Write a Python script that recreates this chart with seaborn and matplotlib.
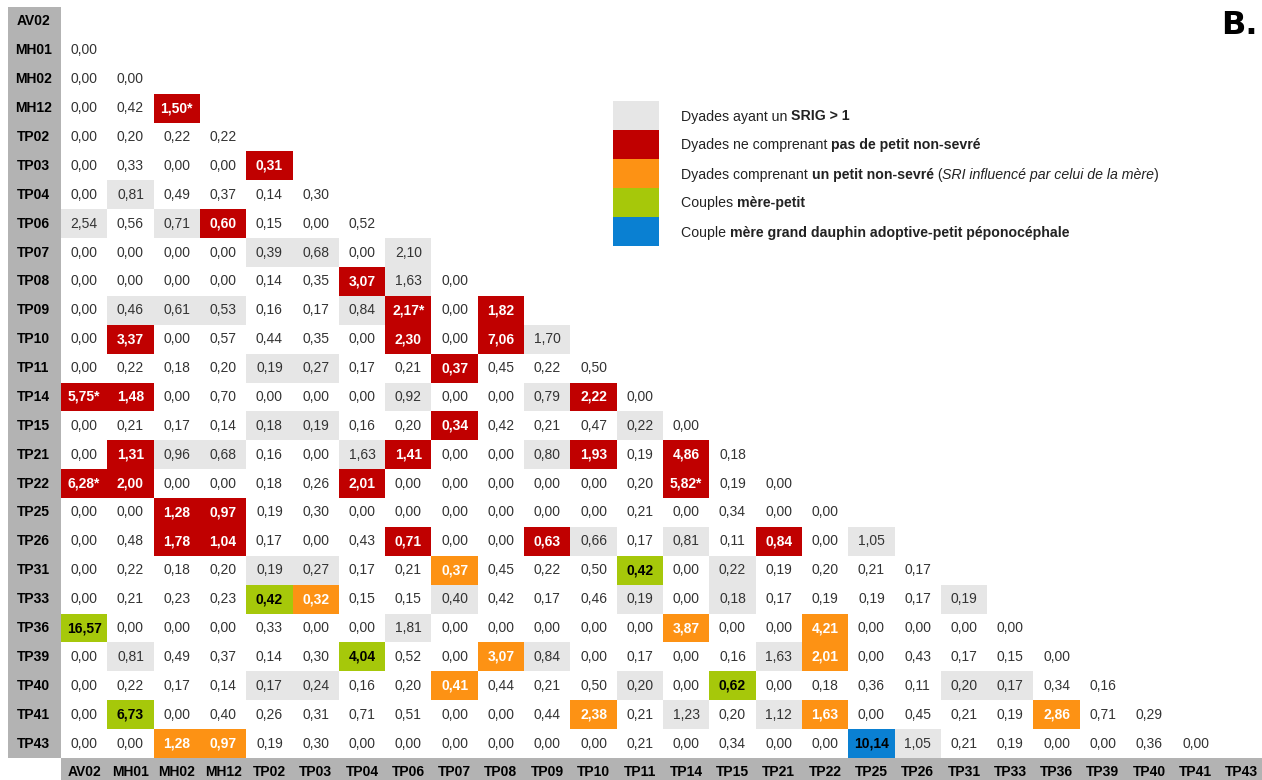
import numpy as np
import pandas as pd
import matplotlib
matplotlib.use("Agg")
import matplotlib.pyplot as plt
import seaborn as sns
from matplotlib.colors import ListedColormap
from matplotlib.patches import Rectangle

# individus (lignes et colonnes)
labels = ["AV02", "MH01", "MH02", "MH12", "TP02", "TP03", "TP04", "TP06", "TP07",
          "TP08", "TP09", "TP10", "TP11", "TP14", "TP15", "TP21", "TP22", "TP25",
          "TP26", "TP31", "TP33", "TP36", "TP39", "TP40", "TP41", "TP43"]

# SRI, triangle inférieur : la ligne i contient les colonnes 0..i-1
sri_rows = [
    [],
    [0.00],
    [0.00, 0.00],
    [0.00, 0.42, 1.50],
    [0.00, 0.20, 0.22, 0.22],
    [0.00, 0.33, 0.00, 0.00, 0.31],
    [0.00, 0.81, 0.49, 0.37, 0.14, 0.30],
    [2.54, 0.56, 0.71, 0.60, 0.15, 0.00, 0.52],
    [0.00, 0.00, 0.00, 0.00, 0.39, 0.68, 0.00, 2.10],
    [0.00, 0.00, 0.00, 0.00, 0.14, 0.35, 3.07, 1.63, 0.00],
    [0.00, 0.46, 0.61, 0.53, 0.16, 0.17, 0.84, 2.17, 0.00, 1.82],
    [0.00, 3.37, 0.00, 0.57, 0.44, 0.35, 0.00, 2.30, 0.00, 7.06, 1.70],
    [0.00, 0.22, 0.18, 0.20, 0.19, 0.27, 0.17, 0.21, 0.37, 0.45, 0.22, 0.50],
    [5.75, 1.48, 0.00, 0.70, 0.00, 0.00, 0.00, 0.92, 0.00, 0.00, 0.79, 2.22, 0.00],
    [0.00, 0.21, 0.17, 0.14, 0.18, 0.19, 0.16, 0.20, 0.34, 0.42, 0.21, 0.47, 0.22, 0.00],
    [0.00, 1.31, 0.96, 0.68, 0.16, 0.00, 1.63, 1.41, 0.00, 0.00, 0.80, 1.93, 0.19, 4.86, 0.18],
    [6.28, 2.00, 0.00, 0.00, 0.18, 0.26, 2.01, 0.00, 0.00, 0.00, 0.00, 0.00, 0.20, 5.82, 0.19, 0.00],
    [0.00, 0.00, 1.28, 0.97, 0.19, 0.30, 0.00, 0.00, 0.00, 0.00, 0.00, 0.00, 0.21, 0.00, 0.34, 0.00,
     0.00],
    [0.00, 0.48, 1.78, 1.04, 0.17, 0.00, 0.43, 0.71, 0.00, 0.00, 0.63, 0.66, 0.17, 0.81, 0.11, 0.84,
     0.00, 1.05],
    [0.00, 0.22, 0.18, 0.20, 0.19, 0.27, 0.17, 0.21, 0.37, 0.45, 0.22, 0.50, 0.42, 0.00, 0.22, 0.19,
     0.20, 0.21, 0.17],
    [0.00, 0.21, 0.23, 0.23, 0.42, 0.32, 0.15, 0.15, 0.40, 0.42, 0.17, 0.46, 0.19, 0.00, 0.18, 0.17,
     0.19, 0.19, 0.17, 0.19],
    [16.57, 0.00, 0.00, 0.00, 0.33, 0.00, 0.00, 1.81, 0.00, 0.00, 0.00, 0.00, 0.00, 3.87, 0.00, 0.00,
     4.21, 0.00, 0.00, 0.00, 0.00],
    [0.00, 0.81, 0.49, 0.37, 0.14, 0.30, 4.04, 0.52, 0.00, 3.07, 0.84, 0.00, 0.17, 0.00, 0.16, 1.63,
     2.01, 0.00, 0.43, 0.17, 0.15, 0.00],
    [0.00, 0.22, 0.17, 0.14, 0.17, 0.24, 0.16, 0.20, 0.41, 0.44, 0.21, 0.50, 0.20, 0.00, 0.62, 0.00,
     0.18, 0.36, 0.11, 0.20, 0.17, 0.34, 0.16],
    [0.00, 6.73, 0.00, 0.40, 0.26, 0.31, 0.71, 0.51, 0.00, 0.00, 0.44, 2.38, 0.21, 1.23, 0.20, 1.12,
     1.63, 0.00, 0.45, 0.21, 0.19, 2.86, 0.71, 0.29],
    [0.00, 0.00, 1.28, 0.97, 0.19, 0.30, 0.00, 0.00, 0.00, 0.00, 0.00, 0.00, 0.21, 0.00, 0.34, 0.00,
     0.00, 10.14, 1.05, 0.21, 0.19, 0.00, 0.00, 0.36, 0.00],
]

# valeurs significatives (astérisque)
starred = [("MH12", "MH02"), ("TP09", "TP06"), ("TP14", "AV02"), ("TP22", "AV02"), ("TP22", "TP14")]

# cellules surlignées (ligne, colonne)
gray_cells = [("TP04", "MH01"), ("TP06", "AV02"), ("TP06", "MH02"), ("TP07", "TP02"), ("TP07", "TP03"),
              ("TP07", "TP06"), ("TP08", "TP06"), ("TP09", "MH01"), ("TP09", "MH02"), ("TP09", "MH12"),
              ("TP09", "TP04"), ("TP10", "TP09"), ("TP11", "TP02"), ("TP11", "TP03"), ("TP14", "TP06"),
              ("TP14", "TP09"), ("TP15", "TP02"), ("TP15", "TP03"), ("TP15", "TP11"), ("TP21", "MH02"),
              ("TP21", "MH12"), ("TP21", "TP04"), ("TP21", "TP09"), ("TP26", "TP10"), ("TP26", "TP14"),
              ("TP26", "TP25"), ("TP31", "TP02"), ("TP31", "TP03"), ("TP31", "TP15"), ("TP33", "TP07"),
              ("TP33", "TP11"), ("TP33", "TP15"), ("TP33", "TP31"), ("TP36", "TP06"), ("TP39", "MH01"),
              ("TP39", "TP09"), ("TP39", "TP21"), ("TP40", "TP02"), ("TP40", "TP03"), ("TP40", "TP11"),
              ("TP40", "TP31"), ("TP40", "TP33"), ("TP41", "TP14"), ("TP41", "TP21"), ("TP43", "TP26")]
red_cells = [("MH12", "MH02"), ("TP03", "TP02"), ("TP06", "MH12"), ("TP08", "TP04"), ("TP09", "TP06"),
             ("TP09", "TP08"), ("TP10", "MH01"), ("TP10", "TP06"), ("TP10", "TP08"), ("TP11", "TP07"),
             ("TP14", "AV02"), ("TP14", "MH01"), ("TP14", "TP10"), ("TP15", "TP07"), ("TP21", "MH01"),
             ("TP21", "TP06"), ("TP21", "TP10"), ("TP21", "TP14"), ("TP22", "AV02"), ("TP22", "MH01"),
             ("TP22", "TP04"), ("TP22", "TP14"), ("TP25", "MH02"), ("TP25", "MH12"), ("TP26", "MH02"),
             ("TP26", "MH12"), ("TP26", "TP06"), ("TP26", "TP09"), ("TP26", "TP21")]
orange_cells = [("TP31", "TP07"), ("TP33", "TP03"), ("TP36", "TP14"), ("TP36", "TP22"), ("TP39", "TP08"),
                ("TP39", "TP22"), ("TP40", "TP07"), ("TP41", "TP10"), ("TP41", "TP22"), ("TP41", "TP36"),
                ("TP43", "MH02"), ("TP43", "MH12")]
green_cells = [("TP31", "TP11"), ("TP33", "TP02"), ("TP36", "AV02"), ("TP39", "TP04"), ("TP40", "TP15"),
               ("TP41", "MH01")]
blue_cells = [("TP43", "TP25")]

legend_lines = [
    [("Dyades ayant un ", "normal", "normal"), ("SRIG > 1", "bold", "normal")],
    [("Dyades ne comprenant ", "normal", "normal"), ("pas de petit non-sevré", "bold", "normal")],
    [("Dyades comprenant ", "normal", "normal"), ("un petit non-sevré", "bold", "normal"),
     (" (", "normal", "normal"), ("SRI influencé par celui de la mère", "normal", "italic"),
     (")", "normal", "normal")],
    [("Couples ", "normal", "normal"), ("mère-petit", "bold", "normal")],
    [("Couple ", "normal", "normal"), ("mère grand dauphin adoptive-petit péponocéphale", "bold", "normal")],
]

# couleurs : blanc, gris, rouge, orange, vert, bleu
palette = ["#ffffff", "#e6e6e6", "#c00000", "#fd9214", "#a6c80a", "#0a80d2"]
band = "#b3b3b3"
text_main = "#333333"

plt.rcParams['font.family'] = ['Liberation Sans', 'DejaVu Sans']

n = len(labels)
sri = pd.DataFrame(np.nan, index=labels, columns=labels)
for i, row in enumerate(sri_rows):
    for j, v in enumerate(row):
        sri.iloc[i, j] = v

cat = pd.DataFrame(0, index=labels, columns=labels)
for code, cells in enumerate([gray_cells, red_cells, orange_cells, green_cells, blue_cells], start=1):
    for r, c in cells:
        cat.loc[r, c] = code

W, H = 1262, 780
fig = plt.figure(figsize=(W / 100, H / 100), dpi=100)
ax = fig.add_axes([61 / W, 22 / H, 1204 / W, 751 / H])

sns.heatmap(cat, mask=sri.isna(), cmap=ListedColormap(palette), vmin=-0.5, vmax=5.5,
            cbar=False, ax=ax)

# valeurs dans les cellules
for i in range(n):
    for j in range(i):
        code = cat.iloc[i, j]
        txt = f"{sri.iloc[i, j]:.2f}".replace(".", ",")
        if (labels[i], labels[j]) in starred:
            txt += "*"
        if code in (2, 3):
            color, weight = "white", "bold"
        elif code in (4, 5):
            color, weight = "black", "bold"
        else:
            color, weight = text_main, "normal"
        ax.text(j + 0.5, i + 0.5, txt, ha="center", va="center", fontsize=10,
                color=color, fontweight=weight)

# étiquettes sur bandeaux gris
ax.tick_params(length=0)
ax.tick_params(axis="y", pad=19.8)
ax.tick_params(axis="x", pad=10)
for t in ax.get_yticklabels():
    t.set_rotation(0)
    t.set_ha("center")
    t.set_fontweight("bold")
    t.set_fontsize(10)
for t in ax.get_xticklabels():
    t.set_rotation(0)
    t.set_va("center")
    t.set_fontweight("bold")
    t.set_fontsize(10)

fig.add_artist(Rectangle((8 / W, 22 / H), 53 / W, 751 / H, transform=fig.transFigure,
                         facecolor=band, edgecolor="none", zorder=-1))
fig.add_artist(Rectangle((61 / W, 0), 1 - 61 / W, 22 / H, transform=fig.transFigure,
                         facecolor=band, edgecolor="none", zorder=-1))

# légende
renderer = fig.canvas.get_renderer()


def seg_width(s, **kw):
    t = fig.text(0, 0, s + "|", **kw)
    w1 = t.get_window_extent(renderer).width
    t.set_text("|")
    w2 = t.get_window_extent(renderer).width
    t.remove()
    return w1 - w2


for k, (col, line) in enumerate(zip(palette[1:], legend_lines)):
    top = 101 + 29 * k
    fig.add_artist(Rectangle((613 / W, 1 - (top + 29) / H), 46 / W, 29 / H,
                             transform=fig.transFigure, facecolor=col, edgecolor="none"))
    x = 681
    yc = 1 - (top + 15.5) / H
    for s, weight, style in line:
        kw = dict(fontsize=10.2, fontweight=weight, fontstyle=style, color="#222222")
        fig.text(x / W, yc, s, ha="left", va="center", **kw)
        x += seg_width(s, **kw)

fig.text(1221 / W, 1 - 25 / H, "B.", ha="left", va="center", fontsize=23,
         fontweight="heavy", family="DejaVu Sans", color="black")

fig.savefig("out.png", dpi=100, facecolor="white")
